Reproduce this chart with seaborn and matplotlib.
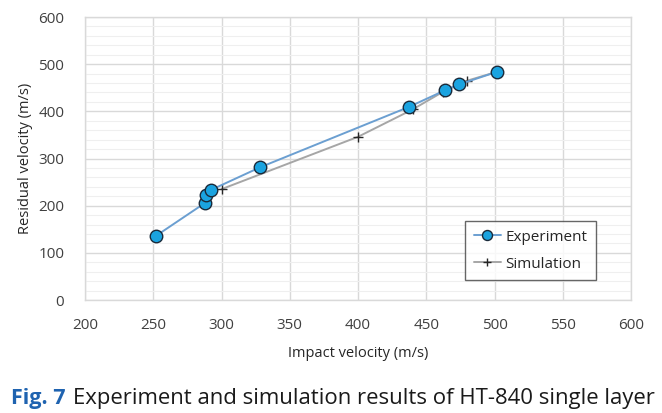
import pandas as pd
import seaborn as sns
import matplotlib.pyplot as plt
from matplotlib.ticker import MultipleLocator

# experiment (impact, residual) in m/s
exp_impact = [252, 288, 289, 292, 328, 437, 464, 474, 502]
exp_residual = [136, 206, 222, 233, 281, 409, 445, 457, 484]
# simulation
sim_impact = [300, 400, 440, 462, 480, 502]
sim_residual = [235, 346, 404, 441, 465, 484]

x_ticks = [200, 250, 300, 350, 400, 450, 500, 550, 600]
y_ticks = [0, 100, 200, 300, 400, 500, 600]

exp = pd.DataFrame({'impact': exp_impact, 'residual': exp_residual})
sim = pd.DataFrame({'impact': sim_impact, 'residual': sim_residual})

sns.set_style('white')
plt.rcParams['font.family'] = ['Open Sans', 'DejaVu Sans']

fig = plt.figure(figsize=(6.62, 4.13), dpi=100)
ax = fig.add_axes([0.1284, 0.2736, 0.8248, 0.6852])

ax.yaxis.set_minor_locator(MultipleLocator(20))
ax.grid(True, which='major', color='#d9d9d9', lw=1.0)
ax.grid(True, which='minor', axis='y', color='#efefef', lw=0.8)
ax.set_axisbelow(True)

sns.lineplot(data=sim, x='impact', y='residual', ax=ax, sort=False,
             color='#a6a6a6', lw=1.4, marker='+', markersize=7,
             markeredgecolor='#262626', markeredgewidth=1.0, label='Simulation')
sns.lineplot(data=exp, x='impact', y='residual', ax=ax, sort=False,
             color='#6b9fd1', lw=1.4, marker='o', markersize=9,
             markerfacecolor='#1aa3e0', markeredgecolor='#1a2a3a',
             markeredgewidth=1.0, label='Experiment')

ax.set_xlim(200, 600)
ax.set_ylim(0, 600)
ax.set_xticks(x_ticks)
ax.set_yticks(y_ticks)
ax.tick_params(labelsize=11, colors='#404040', length=0)
ax.tick_params(axis='x', pad=13)
ax.tick_params(axis='y', pad=15)
for s in ax.spines.values():
    s.set_color('#d9d9d9')
    s.set_linewidth(1.0)

ax.set_xlabel('Impact velocity (m/s)', fontsize=10.5, color='#262626', labelpad=9)
ax.set_ylabel('Residual velocity (m/s)', fontsize=10.5, color='#262626', labelpad=4)

h, l = ax.get_legend_handles_labels()
leg = ax.legend(h[::-1], l[::-1], loc='lower right', bbox_to_anchor=(0.936, 0.07),
                borderaxespad=0, fontsize=11, frameon=True, fancybox=False,
                borderpad=0.55, handlelength=1.8, handletextpad=0.3,
                labelspacing=0.8, markerscale=0.8)
leg.get_frame().set_edgecolor('#404040')
leg.get_frame().set_linewidth(1.0)

cap_font = ['Open Sans', 'DejaVu Sans']
fig.text(0.016, 0.022, 'Fig. 7', fontsize=15.5, fontweight='bold', color='#1f63b0',
         family=cap_font)
fig.text(0.111, 0.022, 'Experiment and simulation results of HT-840 single layer',
         fontsize=15.9, color='#1a1a1a', family=cap_font)

fig.savefig('out.png', dpi=100)
